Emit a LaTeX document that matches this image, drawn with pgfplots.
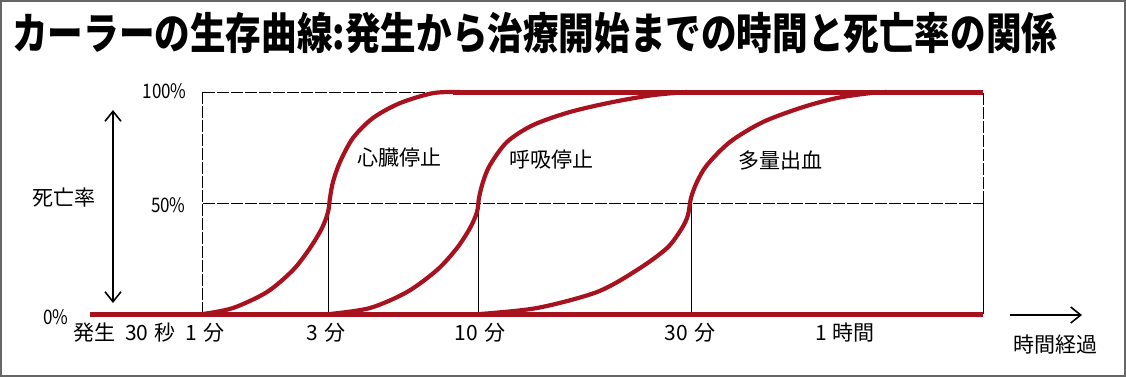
\documentclass[border=0pt]{standalone}
\usepackage{pgfplots}
\pgfplotsset{compat=1.18}
\usepackage{fontspec}
\setmainfont{Noto Sans CJK JP}
\usetikzlibrary{arrows.meta}
\definecolor{cred}{HTML}{A8121E}
\begin{document}
\begin{tikzpicture}
\useasboundingbox (-101.5pt,-31.5pt) rectangle (461.5pt,157pt);
\draw[black!60, line width=0.8pt] (-101.1pt,-31.1pt) rectangle (461.1pt,156.6pt);
\begin{axis}[
  anchor=origin, at={(0pt,0pt)},
  x=0.5pt, y=1.11pt,
  xmin=-113, xmax=780, ymin=0, ymax=100,
  axis lines=none, clip=false,
]
% grid / frame lines
\addplot[black, line width=0.5pt, dash pattern=on 6pt off 1pt] coordinates {(0,100) (780,100)};
\addplot[black, line width=0.5pt, dash pattern=on 6pt off 1pt] coordinates {(0,50) (780,50)};
\addplot[black, line width=0.5pt, dash pattern=on 6pt off 1pt] coordinates {(0,0) (0,100)};
\addplot[black, line width=0.5pt, dash pattern=on 6pt off 1pt] coordinates {(780,50) (780,100)};
\addplot[black, line width=0.5pt] coordinates {(780,0) (780,50)};
\addplot[black, line width=0.5pt] coordinates {(126,0) (126,50)};
\addplot[black, line width=0.5pt] coordinates {(275,0) (275,50)};
\addplot[black, line width=0.5pt] coordinates {(488,0) (488,50)};
\addplot[black, line width=0.5pt] coordinates {(0,0) (780,0)};
% red curves
\addplot[cred, line width=2.5pt] coordinates {(-113,0) (780,0)};
\addplot[cred, line width=2.5pt] coordinates {(250,100) (780,100)};
\addplot[cred, line width=2.1pt, smooth] coordinates {
 (0,0) (30,2.7) (64,9.9) (90,19.8) (107,29.7) (119,38.7) (125,45.9) (127,52.3)
 (130,59.5) (137,68.5) (150,79.3) (170,88.3) (197,95) (230,99.5) (257,100)};
\addplot[cred, line width=2.1pt, smooth] coordinates {
 (127,0) (167,2.7) (204,9.9) (234,19.8) (254,29.7) (267,38.7) (274,45.9) (276,52.3)
 (280,59.5) (287,67.1) (304,77.5) (330,85.1) (367,91) (410,95.5) (450,98.6) (484,100)};
\addplot[cred, line width=2.1pt, smooth] coordinates {
 (277,0) (334,2.7) (394,9.9) (434,19.8) (464,29.7) (479,38.7) (485,44.6) (488,52.3)
 (494,59.5) (504,67.1) (527,77.5) (560,86.5) (600,93.2) (634,97.3) (667,99.5) (684,100)};
\end{axis}
% texts
\node[anchor=west, inner sep=0pt] at (-95.5pt,140.5pt) {\scalebox{1}[1.22]{\fontsize{17.8}{20}\selectfont\bfseries カーラーの生存曲線:発生から治療開始までの時間と死亡率の関係}};
\begin{scope}[every node/.style={inner sep=0pt, font=\fontsize{10}{11}\selectfont}]
\node[anchor=east] at (-8pt,111.5pt) {\scalebox{0.85}[1]{100\%}};
\node[anchor=east] at (-8.5pt,54.5pt) {\scalebox{0.85}[1]{50\%}};
\node[anchor=west] at (-80pt,-1.5pt) {\scalebox{0.85}[1]{0\%}};
\end{scope}
\begin{scope}[every node/.style={inner sep=0pt, font=\fontsize{10.5}{12}\selectfont}]
\node at (-69.5pt,58pt) {死亡率};
\node at (-27pt,-9.5pt) {発生\hspace{0.45em}30\hspace{0.3em}秒\hspace{0.45em}1\hspace{0.3em}分};
\node at (61.5pt,-9.5pt) {3\hspace{0.3em}分};
\node at (138.5pt,-9.5pt) {10\hspace{0.3em}分};
\node at (243.5pt,-9.5pt) {30\hspace{0.3em}分};
\node at (321pt,-9.5pt) {1\hspace{0.3em}時間};
\node at (426pt,-15.5pt) {時間経過};
\node at (98.5pt,78pt) {心臓停止};
\node at (174pt,77pt) {呼吸停止};
\node at (288.5pt,76.5pt) {多量出血};
\end{scope}
\draw[line width=0.8pt, {Straight Barb[length=5pt,width=8pt]}-{Straight Barb[length=5pt,width=8pt]}] (-45pt,102pt) -- (-45pt,5.5pt);
\draw[line width=0.8pt, -{Straight Barb[length=5pt,width=8pt]}] (403.5pt,-0.5pt) -- (439.5pt,-0.5pt);
\end{tikzpicture}
\end{document}
